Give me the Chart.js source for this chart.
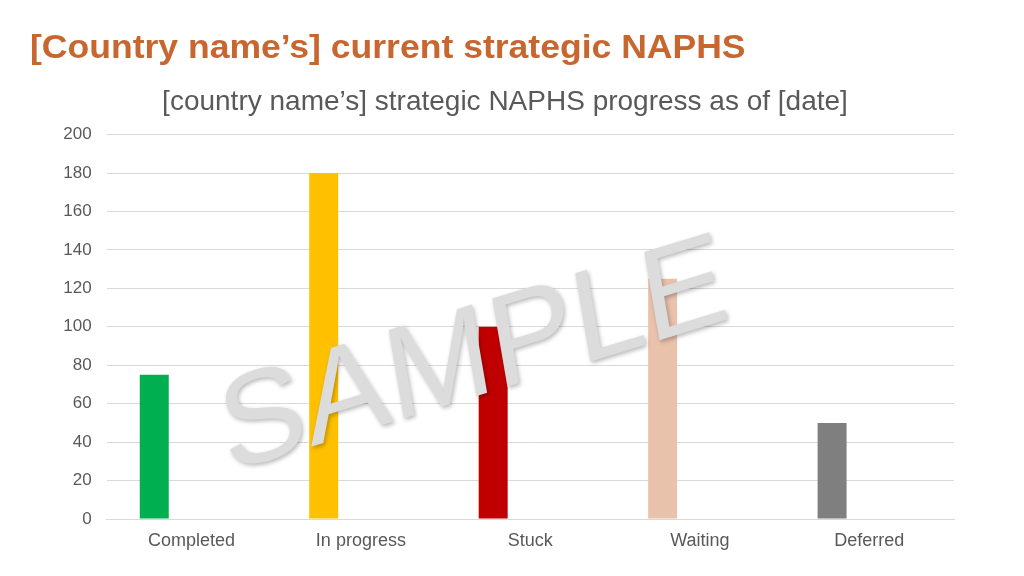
<!DOCTYPE html>
<html>
<head>
<meta charset="utf-8">
<script src="https://cdn.jsdelivr.net/npm/chart.js@4/dist/chart.umd.min.js"></script>
<style>
  html, body { margin: 0; padding: 0; background: #ffffff; }
  body { width: 1024px; height: 576px; position: relative; overflow: hidden; }
  #pageTitle {
    position: absolute; left: 30px; top: 30px;
    font-family: "Liberation Sans", Arial, sans-serif; font-weight: bold;
    font-size: 33px; line-height: 1; color: #C8662F; white-space: nowrap;
    transform: scaleX(1.077); transform-origin: left top;
  }
  #wrap { position: absolute; left: 0; top: 0; width: 1024px; height: 576px; }
</style>
</head>
<body>
<div id="wrap"><canvas id="c" width="1024" height="576"></canvas></div>
<div id="pageTitle">[Country name’s] current strategic NAPHS</div>
<script>
const categories = ["Completed", "In progress", "Stuck", "Waiting", "Deferred"];
const values = [75, 180, 100, 125, 50];
const barColors = ["#00B050", "#FFC000", "#C00000", "#E9C2AC", "#7F7F7F"];
const emptySeries2 = [null, null, null, null, null];
const emptySeries3 = [null, null, null, null, null];
const yTicks = [0, 20, 40, 60, 80, 100, 120, 140, 160, 180, 200];
const chartTitle = "[country name’s] strategic NAPHS progress as of [date]";
const watermarkText = "SAMPLE";

const watermark = {
  id: 'watermark',
  afterDatasetsDraw(chart) {
    const ctx = chart.ctx;
    ctx.save();
    ctx.setTransform(1, 0, 0, 1, 0, 0);
    const dpr = chart.currentDevicePixelRatio || 1;
    ctx.scale(dpr, dpr);
    ctx.translate(228, 472);
    ctx.transform(0.956, -0.292, 0.17, 0.985, 0, 0);
    ctx.font = '130px "Liberation Sans", Arial, sans-serif';
    ctx.textBaseline = 'alphabetic';
    ctx.textAlign = 'left';
    if ('letterSpacing' in ctx) ctx.letterSpacing = '0px';
    ctx.shadowColor = 'rgba(0,0,0,0.28)';
    ctx.shadowBlur = 4;
    ctx.shadowOffsetX = 1.5;
    ctx.shadowOffsetY = 2;
    ctx.fillStyle = '#DCDCDC';
    ctx.fillText(watermarkText, 0, 0);
    ctx.restore();
  }
};

new Chart(document.getElementById('c'), {
  type: 'bar',
  data: {
    labels: categories,
    datasets: [
      { label: 'Series 1', data: values, backgroundColor: barColors, borderWidth: 0 },
      { label: 'Series 2', data: emptySeries2, backgroundColor: '#ED7D31' },
      { label: 'Series 3', data: emptySeries3, backgroundColor: '#A5A5A5' }
    ]
  },
  options: {
    responsive: false,
    animation: false,
    devicePixelRatio: 1,
    categoryPercentage: 0.658,
    barPercentage: 0.78,
    layout: { padding: { left: 56, right: 70, top: 0, bottom: 0 } },
    plugins: {
      legend: { display: false },
      tooltip: { enabled: false },
      title: {
        display: true,
        text: chartTitle,
        color: '#595959',
        font: { family: '"Liberation Sans", Arial, sans-serif', size: 28, weight: 'normal' },
        padding: { top: 85, bottom: 16 }
      }
    },
    scales: {
      x: {
        grid: { display: false, drawTicks: false },
        border: { display: true, color: '#D9D9D9', width: 1 },
        ticks: {
          color: '#595959',
          font: { family: '"Liberation Sans", Arial, sans-serif', size: 18 },
          padding: 11
        },
        afterFit(scale) { scale.height = 57; }
      },
      y: {
        min: 0, max: 200,
        clip: false,
        afterBuildTicks(scale) { scale.ticks = yTicks.map(v => ({ value: v })); },
        grid: { color: '#D9D9D9', lineWidth: 1, drawTicks: false },
        border: { display: false },
        ticks: {
          color: '#595959',
          font: { family: '"Liberation Sans", Arial, sans-serif', size: 17 },
          padding: 15
        },
        afterFit(scale) { scale.width = 50.7; }
      }
    }
  },
  plugins: [watermark]
});
</script>
</body>
</html>
